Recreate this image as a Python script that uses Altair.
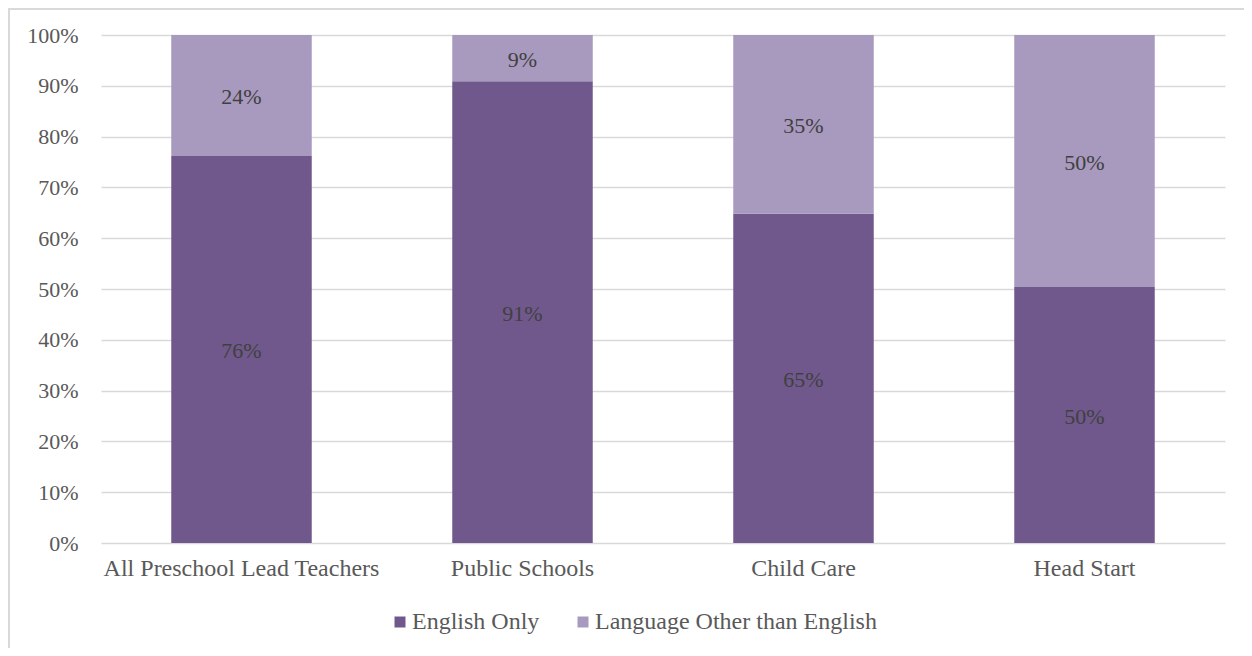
import altair as alt
import pandas as pd

categories = ["All Preschool Lead Teachers", "Public Schools", "Child Care", "Head Start"]
series = ["English Only", "Language Other than English"]
english_only = [76.2, 90.9, 64.8, 50.4]
other_language = [23.8, 9.1, 35.2, 49.6]
colors = ["#70588C", "#A899BE"]

rows = []
for i, c in enumerate(categories):
    rows.append({"category": c, "series": series[0], "ord": 0, "value": english_only[i]})
    rows.append({"category": c, "series": series[1], "ord": 1, "value": other_language[i]})
df = pd.DataFrame(rows)

FONT = "Liberation Serif"
FS = 22
FS_WIDE = 24

base = alt.Chart(df).transform_calculate(
    frac="datum.value / 100"
).transform_stack(
    stack="frac", groupby=["category"], as_=["y0", "y1"],
    sort=[alt.SortField("ord", order="ascending")]
).transform_calculate(
    mid="(datum.y0 + datum.y1) / 2"
)

x_enc = alt.X(
    "category:N", sort=categories, title=None,
    scale=alt.Scale(paddingInner=0.5, paddingOuter=0.25),
    axis=alt.Axis(labelAngle=0, labelFont=FONT, labelFontSize=FS_WIDE, labelColor="#595959",
                  labelPadding=13, labelLimit=0, ticks=False, domain=False, grid=False),
)

bars = base.mark_bar(stroke=None).encode(
    x=x_enc,
    y=alt.Y("y0:Q", scale=alt.Scale(domain=[0, 1]), title=None,
            axis=alt.Axis(format=".0%", values=[i / 10 for i in range(11)],
                          labelFont=FONT, labelFontSize=FS, labelColor="#595959",
                          labelPadding=23, ticks=False, domain=False,
                          grid=True, gridColor="#D9D9D9", gridWidth=1.5)),
    y2="y1:Q",
    color=alt.Color("series:N", sort=series,
                    scale=alt.Scale(domain=series, range=colors),
                    legend=alt.Legend(title=None, orient="none", direction="horizontal",
                                      legendX=287, legendY=575,
                                      symbolType="square", symbolSize=121, symbolStrokeWidth=0,
                                      labelFont=FONT, labelFontSize=FS_WIDE, labelColor="#595959",
                                      labelOffset=0, labelLimit=0, columnPadding=31, padding=0)),
)

labels = base.mark_text(font=FONT, fontSize=FS, color="#404040", baseline="middle", dy=2).encode(
    x=alt.X("category:N", sort=categories),
    y=alt.Y("mid:Q"),
    text=alt.Text("frac:Q", format=".0%"),
)

border_df = pd.DataFrame({"a": [0]})
top_line = alt.Chart(border_df).mark_rule(color="#D9D9D9", strokeWidth=2).encode(
    x=alt.value(-93), x2=alt.value(1143), y=alt.value(-26)
)
left_line = alt.Chart(border_df).mark_rule(color="#D9D9D9", strokeWidth=2).encode(
    x=alt.value(-92), y=alt.value(-27), y2=alt.value(613)
)

chart = alt.layer(bars, labels, top_line, left_line).properties(
    width=1124, height=508,
    autosize=alt.AutoSizeParams(type="none"),
    padding={"left": 93, "top": 27, "right": 19, "bottom": 105},
).configure_view(stroke=None)

chart.save("out.html", embed_options={"renderer": "svg", "actions": False})
